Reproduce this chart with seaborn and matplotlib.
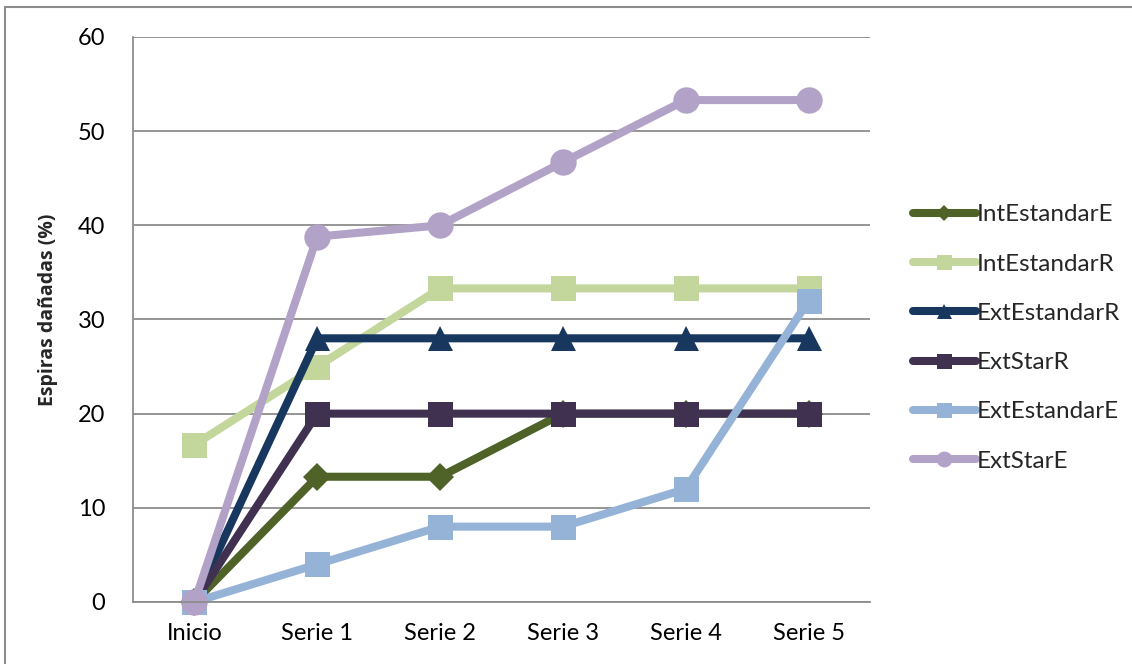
import matplotlib
matplotlib.use("Agg")
import matplotlib.pyplot as plt
import seaborn as sns
from matplotlib.patches import Rectangle

# categories and series values (percent of damaged turns)
categories = ["Inicio", "Serie 1", "Serie 2", "Serie 3", "Serie 4", "Serie 5"]
int_estandar_e = [0, 13.3, 13.3, 20, 20, 20]
int_estandar_r = [16.7, 25, 33.3, 33.3, 33.3, 33.3]
ext_estandar_r = [0, 28, 28, 28, 28, 28]
ext_star_r = [0, 20, 20, 20, 20, 20]
ext_estandar_e = [0, 4, 8, 8, 12, 32]
ext_star_e = [0, 38.8, 40, 46.7, 53.3, 53.3]

series_names = ["IntEstandarE", "IntEstandarR", "ExtEstandarR",
                "ExtStarR", "ExtEstandarE", "ExtStarE"]
series_values = [int_estandar_e, int_estandar_r, ext_estandar_r,
                 ext_star_r, ext_estandar_e, ext_star_e]
colors = ["#4F6228", "#C3D69B", "#17375E", "#403151", "#95B3D7", "#B3A2C7"]
markers = ["D", "s", "^", "s", "s", "o"]
marker_sizes = [14, 18, 18, 18, 18, 19]

y_ticks = [0, 10, 20, 30, 40, 50, 60]

sns.set_theme(style="white")
plt.rcParams["font.family"] = ["Lato", "DejaVu Sans"]

fig = plt.figure(figsize=(11.32, 6.64), dpi=100)
ax = fig.add_axes([0.1175, 0.0934, 0.651, 0.8509])

for name, vals, col, mk, ms in zip(series_names, series_values, colors, markers, marker_sizes):
    sns.lineplot(x=categories, y=vals, ax=ax, color=col, marker=mk,
                 markersize=ms, markeredgewidth=0, linewidth=5.8,
                 label=name, legend=False, clip_on=False)

ax.set_xlim(-0.5, len(categories) - 0.5)
ax.set_ylim(0, 60)
ax.set_yticks(y_ticks)
ax.set_yticklabels([str(t) for t in y_ticks])
ax.yaxis.grid(True, color="#8c8c8c", linewidth=1.3)
ax.set_axisbelow(True)
ax.tick_params(axis="both", length=0, labelsize=17, colors="black")
ax.tick_params(axis="y", pad=20)
ax.tick_params(axis="x", pad=15)

for side in ["top", "right"]:
    ax.spines[side].set_visible(False)
for side in ["left", "bottom"]:
    ax.spines[side].set_color("#8c8c8c")
    ax.spines[side].set_linewidth(1.3)

ax.set_xlabel("")
ax.set_ylabel("Espiras dañadas (%)", fontsize=14, fontweight="bold",
              family=["Open Sans", "DejaVu Sans"])
ax.yaxis.set_label_coords(-0.102, 0.517)

handles, labels = ax.get_legend_handles_labels()
fig.legend(handles, labels, loc="center left", bbox_to_anchor=(0.787, 0.491),
           frameon=False, fontsize=17.5, handlelength=2.6, handletextpad=0.05,
           labelspacing=1.16, markerscale=0.6)

# outer chart border
fig.add_artist(Rectangle((5 / 1132, -0.05), 1.2, 1 - 7 / 664 + 0.05,
                         transform=fig.transFigure, fill=False,
                         edgecolor="#8c8c8c", linewidth=1.5))

fig.savefig("out.png", dpi=100)
